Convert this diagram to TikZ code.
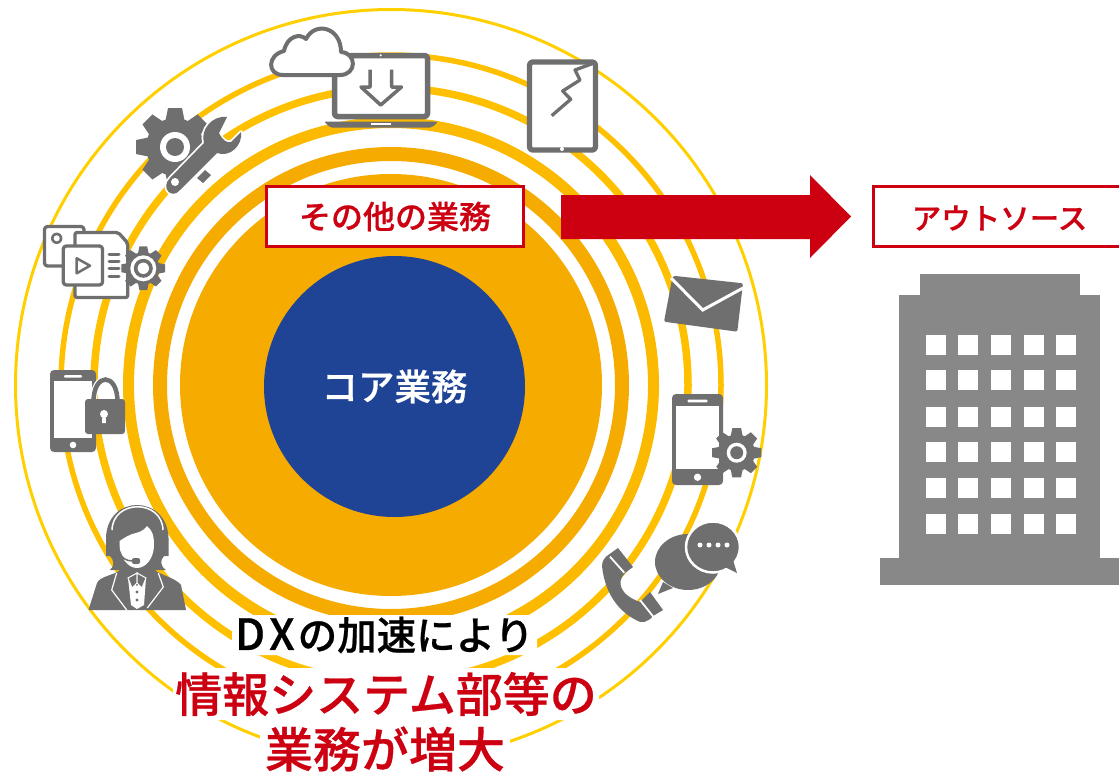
\documentclass[tikz,border=0pt]{standalone}
\usepackage{fontspec}
\newfontfamily\jpfont[UprightFont=* Medium, FakeBold=.6]{Noto Sans CJK JP}
\definecolor{icongray}{HTML}{6F6F6F}
\definecolor{towergray}{HTML}{888888}
\definecolor{alertred}{HTML}{CC0011}
\definecolor{coreblue}{HTML}{1F4496}
\definecolor{ambera}{HTML}{F6AB00}
\definecolor{amberb}{HTML}{FBB900}
\definecolor{amberc}{HTML}{FFC000}
\definecolor{amberd}{HTML}{FFCF00}
\tikzset{
  iconline/.style={draw=icongray, fill=white, line width=#1, line join=round},
  iconline/.default=4pt,
  cog/.pic={
    \fill[icongray] (0,0) circle [radius=29];
    \foreach \a in {0,45,...,315}
      \fill[icongray, rotate=\a] (-10,-24) -- (-7,-39) -- (7,-39) -- (10,-24) -- cycle;
  },
  handset/.pic={
    \fill[icongray, rounded corners=4pt] (0,0) rectangle (46,82);
    \fill[white] (4,11) rectangle (42,68);
    \fill[white, rounded corners=1pt] (14,5) rectangle (32,7.5);
    \fill[white] (23,75) circle [radius=3.3];
  }
}
\begin{document}
\begin{tikzpicture}[x=1pt, y=-1pt,
  every node/.style={font=\jpfont, inner sep=0pt},
  ring/.style={draw=#1, fill=none},
  tag/.style={draw=alertred, line width=3pt, fill=white, text=alertred},
  closing/.style={fill=white, rounded corners=8pt},
  ]
  \clip (0,0) rectangle (1119,774);
  \coordinate (center) at (391,385);
  \draw[ring=amberd, line width=3pt] (center) circle [radius=375.5];
  \draw[ring=amberc, line width=5.5pt] (center) circle [radius=330];
  \draw[ring=amberc, line width=7.5pt] (center) circle [radius=297];
  \draw[ring=amberb, line width=11pt] (center) circle [radius=262.5];
  \draw[ring=ambera, line width=14pt] (center) circle [radius=231];
  \fill[ambera] (center) circle [radius=211];
  \node[circle, fill=coreblue, minimum size=261pt, text=white] (core) at (394.5,386.5)
    {\fontsize{36.5}{36.5}\selectfont コア業務};

  \node[tag, minimum width=257.5pt, minimum height=60pt] (other) at (395,216.5)
    {\fontsize{32}{32}\selectfont その他の業務};
  \node[tag, anchor=west, minimum width=260pt, minimum height=60pt] (outsource) at (872,216.5) {};
  \node[text=alertred, font=\jpfont\fontsize{29.5}{29.5}\selectfont] (outsourcetext) at (999.5,218) {アウトソース};
  \fill[alertred] (561,195) -- (810,195) -- (810,175) -- (851,216.5) -- (810,258) -- (810,239) -- (561,239) -- cycle;

  % tower
  \fill[towergray] (920,274) rectangle (1080,295);
  \fill[towergray] (899,295) rectangle (1100,558);
  \fill[towergray] (880,558) rectangle (1125,585);
  \foreach \x in {926,958,991,1024,1056}
    \foreach \y in {335,370,407,442,478,514}
      \fill[white] (\x,\y) rectangle +(20,20);

  % cloud and laptop
  \fill[icongray, rounded corners=2pt] (324,121.5) -- (438,121.5) -- (432,127.5) -- (330,127.5) -- cycle;
  \draw[iconline=5.5pt, rounded corners=3pt] (334.5,55.5) rectangle (427.5,116.5);
  \fill[white] (380.7,55.3) circle [radius=1.2];
  \fill[white] (371,122.7) rectangle (391,124.7);
  \draw[icongray, line width=3.5pt, line join=round, fill=none]
    (370,69.5) -- (370,87) -- (361,87) -- (380.7,105) -- (401.5,87) -- (391.5,87) -- (391.5,69.5);
  \draw[iconline=4pt, line join=round]
    (283,75) .. controls (267,75) and (267,55) .. (284,51)
    .. controls (287,36) and (300,33) .. (306,39)
    .. controls (315,21) and (341,27) .. (341,52)
    .. controls (357,53) and (357,75) .. (340,75) -- cycle;

  % tablet
  \draw[iconline=5.3pt, rounded corners=3pt] (529.5,62) rectangle (595.5,150);
  \fill[white] (562,149) circle [radius=2];
  \draw[icongray, line width=3.3pt, line join=round]
    (551.7,115.7) -- (570.7,99.3) -- (562.7,91) -- (580,80) -- (575,70) -- (594,63);

  % gear and wrench
  \begin{scope}
    \clip (120,90) -- (240,90) -- (240,120) -- (172,194) -- (120,194) -- cycle;
    \pic at (175,147) {cog};
    \fill[white] (175,147) circle [radius=15];
    \fill[icongray] (175,147) circle [radius=9];
  \end{scope}
  \fill[icongray] (197,178) -- (205,170) -- (211,175) -- (203,183) -- cycle;
  \fill[icongray, preaction={draw=white, line width=3.5pt, line join=round}]
    (227,117) .. controls (212,115) and (200,130) .. (204,143) -- (170,178)
    .. controls (160,188) and (172,200) .. (180,190) -- (217,153)
    .. controls (230,158) and (243,145) .. (241,132) -- (231,142)
    .. controls (227,143) and (223,141) .. (219,133) -- cycle;
  \fill[white] (175,182) circle [radius=4];

  % media files
  \draw[iconline=3.3pt, rounded corners=3pt] (44.5,226.5) rectangle (84,266);
  \fill[icongray] (56.7,238.3) circle [radius=5.7];
  \fill[white] (56.7,238.3) circle [radius=3];
  \draw[iconline=3.3pt, rounded corners=2pt]
    (75,232.5) -- (118.3,232.5) -- (127.7,243) -- (127.7,297.5) -- (75,297.5) -- cycle;
  \draw[iconline=3.3pt, rounded corners=3pt] (63.3,246) rectangle (102.5,285);
  \draw[icongray, line width=2.5pt, line join=round, fill=white] (76.7,258.3) -- (90,265.7) -- (76.7,273.3) -- cycle;
  \foreach \y in {254,261.7,268.3,276.7}
    \draw[icongray, line width=3pt, line cap=round] (109,\y) -- (119,\y);
  \pic[scale=.56] at (143.3,268.3) {cog};
  \fill[white] (143.3,268.3) circle [radius=13];
  \fill[icongray] (143.3,268.3) circle [radius=9.5];
  \fill[white] (143.3,268.3) circle [radius=5.7];

  % mail
  \fill[icongray, rounded corners=2pt] (672.7,275.7) -- (743,283.3) -- (737.3,331.7) -- (664,321.7) -- cycle;
  \draw[white, line width=3pt] (671,278) -- (702.7,310) -- (743,288);

  % phone and cog
  \pic[scale=1.11] at (672,394) {handset};
  \pic[scale=.63] at (736.7,452.7) {cog};
  \fill[white] (736.7,452.7) circle [radius=10];
  \fill[icongray] (736.7,452.7) circle [radius=6.5];

  % speech bubbles and receiver
  \fill[icongray] (688,562) ellipse [x radius=33, y radius=28];
  \fill[icongray] (663,582) -- (658,594) -- (673,588) -- cycle;
  \draw[white, line width=2.5pt, fill=icongray] (713,547) ellipse [x radius=27, y radius=25.5];
  \fill[icongray] (733,560) -- (737,573) -- (725,567) -- cycle;
  \foreach \x in {700,709,718,727}
    \fill[white] (\x,545) circle [radius=2.5];
  \fill[icongray] (618,548) -- (633,567) -- (625,573)
    .. controls (616,582) and (620,595) .. (640,602)
    -- (650,592) -- (663,610) -- (653,616)
    .. controls (648,622) and (642,624) .. (636,620)
    .. controls (620,612) and (605,595) .. (602,566)
    .. controls (602,560) and (605,557) .. (611,553) -- cycle;
  \draw[white, line width=1.8pt] (610,556.7) -- (624.3,572.7);
  \draw[white, line width=1.8pt] (640,600) -- (653.3,616.7);

  % phone and lock
  \pic at (50,370) {handset};
  \draw[white, line width=7pt, fill=none] (93.5,402) .. controls (93.5,372) and (117.5,372) .. (117.5,402);
  \draw[icongray, line width=4.5pt, fill=none] (93.5,402) .. controls (93.5,372) and (117.5,372) .. (117.5,402);
  \fill[icongray, rounded corners=3pt] (85,399) rectangle (125,434);
  \fill[white] (104,414) circle [radius=4];
  \fill[white] (102.5,414) -- (105.5,414) -- (106,423) -- (102,423) -- cycle;

  % operator
  \fill[icongray] (88.5,610) -- (97,583) .. controls (100,576) and (115,575) .. (120,570)
    -- (155,570) .. controls (160,575) and (176,578) .. (181,585) -- (186,610) -- cycle;
  \fill[icongray] (110,570) .. controls (115,566) and (114,560) .. (110,556)
    -- (106,556) -- (106,538) .. controls (107,494) and (167,494) .. (168.5,538)
    -- (168.5,556) -- (164,556) .. controls (160,560) and (160,566) .. (166,570) -- cycle;
  \draw[white, line width=1.5pt, fill=none] (112,530) .. controls (113,499) and (162,499) .. (163,530);
  \fill[white] (119.5,541) .. controls (124,538) and (130,534) .. (136,533)
    .. controls (141,532) and (145,529) .. (147,526)
    .. controls (152,530) and (154,535) .. (154,545)
    .. controls (154,558) and (146,568) .. (137,568)
    .. controls (128,568) and (120,558) .. (119.5,545) -- cycle;
  \draw[icongray, line width=1.5pt] (120,552) .. controls (121,558) and (126,561) .. (133,561);
  \fill[icongray, rounded corners=2pt] (132,558) rectangle (140,564);
  \fill[white] (128,578) -- (137,586) -- (146,578) -- (144,605) -- (137,609) -- (131,605) -- cycle;
  \draw[white, line width=1pt, fill=icongray] (128,578) -- (137,573) -- (137,583) -- (132,588) -- cycle;
  \draw[white, line width=1pt, fill=icongray] (146,578) -- (137,573) -- (137,583) -- (142,588) -- cycle;
  \foreach \y in {592,600}
    \fill[icongray] (137,\y) circle [radius=1.6];
  \draw[white, line width=1.2pt, fill=none] (116.7,573) -- (111.7,590) -- (126.7,610);
  \draw[white, line width=1.2pt, fill=none] (158.3,573) -- (163.3,587) -- (147.3,608);

  \node[closing, minimum width=305pt, minimum height=40pt] (lead) at (384.5,635)
    {\fontsize{43}{43}\selectfont D\kern4pt X\kern3pt\fontsize{39.5}{39.5}\selectfont の加速により};
  \node[closing, text=alertred, minimum width=426pt, minimum height=52pt] (growth) at (386,694)
    {\fontsize{47}{47}\selectfont 情報システム部等の};
  \node[closing, text=alertred, minimum width=250pt, minimum height=49pt] (growthb) at (385,749)
    {\fontsize{48}{48}\selectfont 業務が増大};
\end{tikzpicture}
\end{document}
